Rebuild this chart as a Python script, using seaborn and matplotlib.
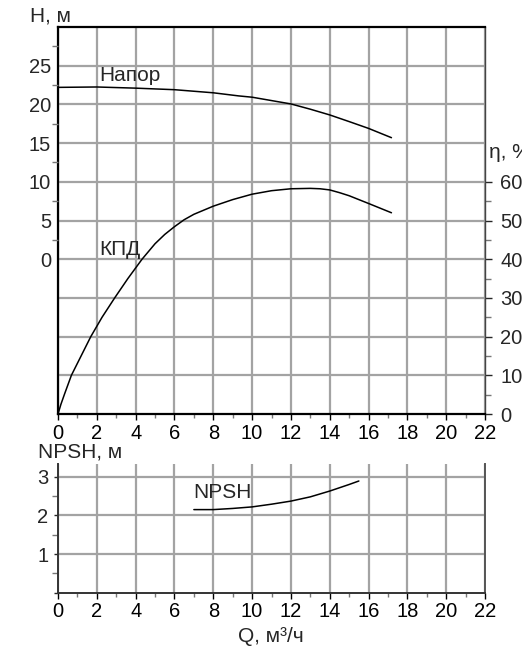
import numpy as np
import pandas as pd
import matplotlib
matplotlib.use("Agg")
import matplotlib.pyplot as plt
from matplotlib.ticker import MultipleLocator, FixedLocator
import seaborn as sns

# flow, m3/h
q_head = [0, 2, 4, 6, 8, 9.3, 10, 12, 13, 14, 15, 16, 17.18]
head = [22.2, 22.25, 22.1, 21.9, 21.5, 21.1, 20.93, 20.06, 19.38, 18.64, 17.78, 16.9, 15.7]

q_eff = [0, 0.15, 0.34, 0.69, 1.17, 1.69, 2.27, 2.92, 3.6, 4.33, 5, 5.5, 6, 6.5, 7, 8, 9, 10,
         11, 12, 13, 13.5, 14, 14.5, 15, 16, 17.18]
eff = [0, 2.5, 5.2, 10, 14.8, 20, 25, 30, 35, 40, 44.0, 46.4, 48.4, 50.2, 51.6, 53.7, 55.4, 56.8,
       57.7, 58.2, 58.3, 58.2, 57.9, 57.2, 56.4, 54.4, 52.0]

q_npsh = [7.0, 8, 9, 10, 11, 12, 13, 14, 15, 15.5]
npsh = [2.15, 2.15, 2.18, 2.22, 2.29, 2.37, 2.48, 2.63, 2.80, 2.89]

x_ticks = list(range(0, 23, 2))
h_ticks = [0, 5, 10, 15, 20, 25]
eta_ticks = [0, 10, 20, 30, 40, 50, 60]
npsh_ticks = [0, 1, 2, 3]

sns.set_theme(style="white")
plt.rcParams["font.family"] = ["Liberation Sans", "DejaVu Sans"]

W, H = 522, 649
fig = plt.figure(figsize=(W / 100, H / 100), dpi=100)

grid_c = "#a3a3a3"
grid_lw = 1.6
tick_fs = 14.5
text_fs = 15
line_kw = dict(color="black", linewidth=1.1)


def style_x(ax):
    ax.set_xlim(0, 22)
    ax.xaxis.set_major_locator(FixedLocator(x_ticks))
    ax.xaxis.set_minor_locator(MultipleLocator(1))
    ax.tick_params(axis="x", which="major", direction="out", length=4, width=1, pad=3,
                   colors="black", labelsize=tick_fs, bottom=True)
    ax.tick_params(axis="x", which="minor", direction="out", length=3, width=1,
                   color="#777777", bottom=True)
    for v in x_ticks:
        ax.axvline(v, color=grid_c, linewidth=grid_lw, zorder=0.5)


# ---------- top panel: head + efficiency ----------
ax = fig.add_axes([58 / W, 1 - 414 / H, 427 / W, 387 / H])
axh = ax.twinx()

ax.set_ylim(0, 100)
style_x(ax)
for v in range(10, 100, 10):
    ax.axhline(v, color=grid_c, linewidth=grid_lw, zorder=0.5)

sns.lineplot(x=q_eff, y=eff, ax=ax, **line_kw)
ax.yaxis.tick_right()
ax.yaxis.set_major_locator(FixedLocator(eta_ticks))
ax.yaxis.set_minor_locator(FixedLocator(list(range(5, 60, 10))))
ax.tick_params(axis="y", which="major", direction="out", length=5, width=1, pad=6,
               labelsize=tick_fs, right=True, left=False, labelright=True, labelleft=False)
ax.tick_params(axis="y", which="minor", direction="out", length=4, width=1,
               color="#777777", right=True, left=False)
ax.set_xlabel("")
ax.set_ylabel("")
for s in ["left", "bottom", "top", "right"]:
    ax.spines[s].set_visible(True)
    ax.spines[s].set_color("black")
    ax.spines[s].set_linewidth(1.6)
ax.spines["right"].set_linewidth(1.0)
ax.spines["right"].set_color("#444444")

axh.set_ylim(-20, 30)
sns.lineplot(x=q_head, y=head, ax=axh, **line_kw)
axh.yaxis.tick_left()
axh.yaxis.set_major_locator(FixedLocator(h_ticks))
axh.yaxis.set_minor_locator(FixedLocator([2.5, 7.5, 12.5, 17.5, 22.5, 27.5]))
axh.tick_params(axis="y", which="major", direction="out", length=0, pad=5,
                labelsize=tick_fs, left=True, right=False, labelleft=True, labelright=False)
axh.tick_params(axis="y", which="minor", direction="out", length=4, width=1,
                color="#777777", left=True, right=False)
axh.set_ylabel("")
for s in axh.spines.values():
    s.set_visible(False)

axh.text(2.1, 23.7, "Напор", fontsize=text_fs, va="center", ha="left")
ax.text(2.15, 42.6, "КПД", fontsize=text_fs, va="center", ha="left")

fig.text(30 / W, 1 - 16 / H, "H, м", fontsize=text_fs, va="center", ha="left")
fig.text(489 / W, 1 - 152 / H, "η, %", fontsize=text_fs, va="center", ha="left")

# ---------- bottom panel: NPSH ----------
axn = fig.add_axes([58 / W, 1 - 592.7 / H, 427 / W, (592.7 - 464) / H])
axn.set_ylim(0, 3.33)
style_x(axn)
for v in [1, 2, 3]:
    axn.axhline(v, color=grid_c, linewidth=grid_lw, zorder=0.5)
sns.lineplot(x=q_npsh, y=npsh, ax=axn, **line_kw)
axn.yaxis.set_major_locator(FixedLocator(npsh_ticks))
axn.set_yticklabels(["", "1", "2", "3"])
axn.yaxis.set_minor_locator(FixedLocator([0.5, 1.5, 2.5]))
axn.tick_params(axis="y", which="major", direction="out", length=3, width=1, pad=4,
                labelsize=tick_fs, left=True)
axn.tick_params(axis="y", which="minor", direction="out", length=4, width=1,
                color="#777777", left=True)
axn.set_xlabel("")
axn.set_ylabel("")
axn.spines["top"].set_visible(False)
for s in ["left", "bottom"]:
    axn.spines[s].set_visible(True)
    axn.spines[s].set_color("#333333")
    axn.spines[s].set_linewidth(1.4)
axn.spines["right"].set_visible(True)
axn.spines["right"].set_color("#555555")
axn.spines["right"].set_linewidth(1.4)

axn.text(6.95, 2.58, "NPSH", fontsize=text_fs, va="center", ha="left")

fig.text(38 / W, 1 - 452 / H, "NPSH, м", fontsize=text_fs, va="center", ha="left")
fig.text(271 / W, 1 - 636 / H, "Q, м³/ч", fontsize=text_fs, va="center", ha="center")

fig.savefig("out.png", dpi=100, facecolor="white")
